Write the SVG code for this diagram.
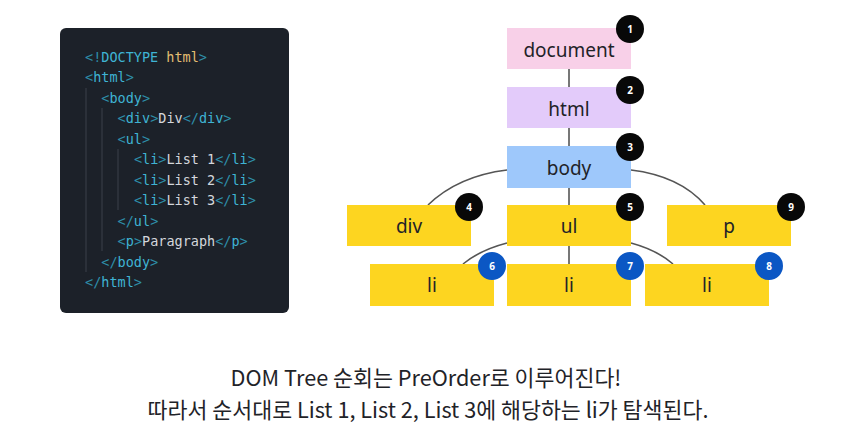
<svg xmlns="http://www.w3.org/2000/svg" width="856" height="442" viewBox="0 0 856 442">
<style>
.code{font-family:"DejaVu Sans Mono","Liberation Mono",monospace;font-size:13.5px;fill:#d4d7dc}
.b{fill:#2e8fa9}.t{fill:#3fb4d4}.y{fill:#e2bd72}
.guide{stroke:#3a404a;stroke-width:1}
.node text{font-family:"Noto Sans","Liberation Sans",sans-serif;font-size:19px;fill:#1f2328;text-anchor:middle}
.badge text{font-family:"Noto Sans","Liberation Sans",sans-serif;font-size:10px;font-weight:bold;fill:#fff;text-anchor:middle}
.blk{fill:#080808}.blu{fill:#0b57c4}
.yel{fill:#fdd520}
.edge{stroke:#555;stroke-width:1.6;fill:none}
.cap{font-family:"Noto Sans CJK KR","Noto Sans",sans-serif;font-size:21.7px;fill:#1f2328;text-anchor:middle}
</style>
<rect width="856" height="442" fill="#fff"/>
<g id="code">
<rect x="60" y="28" width="229" height="285" rx="6" fill="#1c2129"/>
<line class="guide" x1="86" y1="88" x2="86" y2="272"/>
<line class="guide" x1="102" y1="108" x2="102" y2="251"/>
<line class="guide" x1="118" y1="149" x2="118" y2="210"/>
<text class="code" x="85" y="62"><tspan class="b">&lt;!</tspan><tspan class="t">DOCTYPE</tspan> <tspan class="y">html</tspan><tspan class="b">&gt;</tspan></text>
<text class="code" x="85" y="82"><tspan class="b">&lt;</tspan><tspan class="t">html</tspan><tspan class="b">&gt;</tspan></text>
<text class="code" x="101.3" y="103"><tspan class="b">&lt;</tspan><tspan class="t">body</tspan><tspan class="b">&gt;</tspan></text>
<text class="code" x="117.6" y="123"><tspan class="b">&lt;</tspan><tspan class="t">div</tspan><tspan class="b">&gt;</tspan>Div<tspan class="b">&lt;/</tspan><tspan class="t">div</tspan><tspan class="b">&gt;</tspan></text>
<text class="code" x="117.6" y="144"><tspan class="b">&lt;</tspan><tspan class="t">ul</tspan><tspan class="b">&gt;</tspan></text>
<text class="code" x="133.9" y="164"><tspan class="b">&lt;</tspan><tspan class="t">li</tspan><tspan class="b">&gt;</tspan>List 1<tspan class="b">&lt;/</tspan><tspan class="t">li</tspan><tspan class="b">&gt;</tspan></text>
<text class="code" x="133.9" y="185"><tspan class="b">&lt;</tspan><tspan class="t">li</tspan><tspan class="b">&gt;</tspan>List 2<tspan class="b">&lt;/</tspan><tspan class="t">li</tspan><tspan class="b">&gt;</tspan></text>
<text class="code" x="133.9" y="205"><tspan class="b">&lt;</tspan><tspan class="t">li</tspan><tspan class="b">&gt;</tspan>List 3<tspan class="b">&lt;/</tspan><tspan class="t">li</tspan><tspan class="b">&gt;</tspan></text>
<text class="code" x="117.6" y="226"><tspan class="b">&lt;/</tspan><tspan class="t">ul</tspan><tspan class="b">&gt;</tspan></text>
<text class="code" x="117.6" y="246"><tspan class="b">&lt;</tspan><tspan class="t">p</tspan><tspan class="b">&gt;</tspan>Paragraph<tspan class="b">&lt;/</tspan><tspan class="t">p</tspan><tspan class="b">&gt;</tspan></text>
<text class="code" x="101.3" y="267"><tspan class="b">&lt;/</tspan><tspan class="t">body</tspan><tspan class="b">&gt;</tspan></text>
<text class="code" x="85" y="287"><tspan class="b">&lt;/</tspan><tspan class="t">html</tspan><tspan class="b">&gt;</tspan></text>
</g>
<g id="connectors">
<line class="edge" x1="569" y1="69" x2="569" y2="87"/>
<line class="edge" x1="569" y1="128" x2="569" y2="146"/>
<line class="edge" x1="569" y1="188" x2="569" y2="205"/>
<line class="edge" x1="569" y1="246" x2="569" y2="264"/>
<path class="edge" d="M507,170 Q458,176 428,205"/>
<path class="edge" d="M631,170 Q680,176 705,205"/>
<path class="edge" d="M507,243 Q480,250 463,264"/>
<path class="edge" d="M631,243 Q657,250 673,264"/>
</g>
<g id="n-document" class="node"><rect x="507" y="28" width="124" height="41" fill="#f8d0e8"/><text x="569" y="56.5">document</text></g>
<g id="n-html" class="node"><rect x="507" y="87" width="124" height="41" fill="#e3cbfa"/><text x="569" y="115.5">html</text></g>
<g id="n-body" class="node"><rect x="507" y="146" width="124" height="42" fill="#9ec8fb"/><text x="569" y="175">body</text></g>
<g id="n-div" class="node"><rect class="yel" x="347" y="205" width="124" height="41"/><text x="409" y="233">div</text></g>
<g id="n-ul" class="node"><rect class="yel" x="507" y="205" width="124" height="41"/><text x="569" y="233">ul</text></g>
<g id="n-p" class="node"><rect class="yel" x="667" y="205" width="124" height="41"/><text x="729" y="233">p</text></g>
<g id="n-li1" class="node"><rect class="yel" x="370" y="264" width="124" height="42"/><text x="432" y="292">li</text></g>
<g id="n-li2" class="node"><rect class="yel" x="507" y="264" width="124" height="42"/><text x="569" y="292">li</text></g>
<g id="n-li3" class="node"><rect class="yel" x="645" y="264" width="124" height="42"/><text x="707" y="292">li</text></g>
<g id="badges" class="badge">
<circle class="blk" cx="630" cy="29" r="14"/><text x="630" y="32.5">1</text>
<circle class="blk" cx="630" cy="90" r="14"/><text x="630" y="93.5">2</text>
<circle class="blk" cx="630" cy="147" r="14"/><text x="630" y="150.5">3</text>
<circle class="blk" cx="469" cy="207" r="14"/><text x="469" y="210.5">4</text>
<circle class="blk" cx="630" cy="207" r="14"/><text x="630" y="210.5">5</text>
<circle class="blu" cx="492" cy="266" r="14"/><text x="492" y="269.5">6</text>
<circle class="blu" cx="630" cy="266" r="14"/><text x="630" y="269.5">7</text>
<circle class="blu" cx="769" cy="266" r="14"/><text x="769" y="269.5">8</text>
<circle class="blk" cx="791" cy="207" r="14"/><text x="791" y="210.5">9</text>
</g>
<g id="caption">
<text class="cap" x="426" y="386">DOM Tree 순회는 PreOrder로 이루어진다!</text>
<text class="cap" x="428" y="418">따라서 순서대로 List 1, List 2, List 3에 해당하는 li가 탐색된다.</text>
</g>
</svg>
